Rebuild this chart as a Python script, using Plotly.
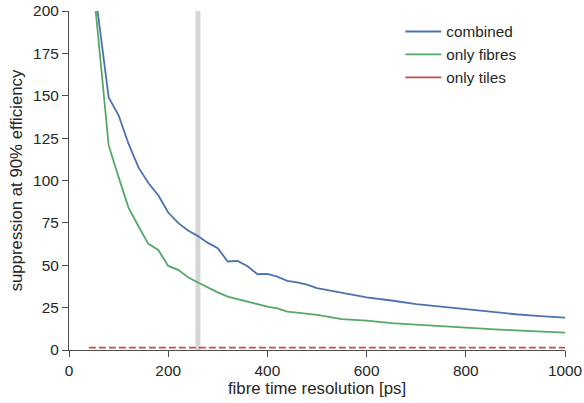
import plotly.graph_objects as go

resolution = [40, 60, 80, 100, 120, 140, 160, 180, 200, 220, 240, 260, 280, 300,
              320, 340, 360, 380, 400, 420, 440, 460, 480, 500, 550, 600, 650, 700,
              750, 800, 850, 900, 950, 1000]
combined = [240, 193, 149, 138.4, 121.7, 107.7, 98.5, 91.3, 81.1, 75.0, 70.5, 67.2,
            63.2, 60.0, 52.2, 52.6, 49.4, 44.7, 44.9, 43.3, 40.8, 39.9, 38.6, 36.5,
            33.6, 31.0, 29.2, 27.1, 25.6, 24.1, 22.4, 21.1, 20.0, 19.1]
only_fibres = [242, 182, 120.7, 102, 84, 73, 62.6, 59, 49.6, 47.3, 42.9, 39.8, 36.8,
               34.0, 31.5, 30.0, 28.8, 27.2, 25.6, 24.5, 22.6, 22.0, 21.3, 20.7, 18.2,
               17.3, 15.9, 15.0, 13.8, 13.0, 12.3, 11.6, 10.9, 10.2]
only_tiles = [1.4] * len(resolution)
band_lo, band_hi = 255, 265

x_ticks = [0, 200, 400, 600, 800, 1000]
y_ticks = [0, 25, 50, 75, 100, 125, 150, 175, 200]

BLUE, GREEN, RED = "#4c72b0", "#55a868", "#c44e52"
TXT = "#262626"
FONT = "Liberation Sans, Arial, sans-serif"

fig = go.Figure()
fig.add_trace(go.Scatter(x=resolution, y=combined, mode="lines", name="combined",
                         line=dict(color=BLUE, width=1.8)))
fig.add_trace(go.Scatter(x=resolution, y=only_fibres, mode="lines", name="only fibres",
                         line=dict(color=GREEN, width=1.8)))
fig.add_trace(go.Scatter(x=resolution, y=only_tiles, mode="lines", name="only tiles",
                         showlegend=False,
                         line=dict(color=RED, width=1.8, dash="7px,3px")))
fig.add_trace(go.Scatter(x=[None], y=[None], mode="lines", name="only tiles",
                         line=dict(color=RED, width=1.8)))

fig.add_shape(type="rect", xref="x", yref="y", x0=band_lo, x1=band_hi, y0=0, y1=200,
              fillcolor="#d6d6d6", line_width=0, layer="below")

fig.update_layout(
    width=584, height=403,
    margin=dict(l=69, r=19, t=11, b=53, autoexpand=False),
    paper_bgcolor="white", plot_bgcolor="white",
    font=dict(family=FONT, size=15.4, color=TXT),
    showlegend=True,
    legend=dict(x=0.668, y=0.988, xanchor="left", yanchor="top",
                bgcolor="rgba(0,0,0,0)", font=dict(size=15.3, color=TXT),
                tracegroupgap=0, itemwidth=36),
    xaxis=dict(range=[0, 1000], tickvals=x_ticks, showgrid=False, zeroline=False,
               automargin=False,
               showline=True, linecolor="#4d4d4d", linewidth=1.3,
               ticks="outside", ticklen=6, tickwidth=1.3, tickcolor="#4d4d4d",
               tickfont=dict(size=15.4),
               title=dict(text="fibre time resolution [ps]", font=dict(size=16.8),
                          standoff=2)),
    yaxis=dict(range=[0, 200], tickvals=y_ticks, showgrid=False, zeroline=False,
               automargin=False,
               showline=True, linecolor="#4d4d4d", linewidth=1.3,
               ticks="outside", ticklen=6, tickwidth=1.3, tickcolor="#4d4d4d",
               tickfont=dict(size=15.4),
               title=dict(text="suppression at 90% efficiency", font=dict(size=16.8),
                          standoff=6)),
)

fig.write_html("out.html", config={"displayModeBar": False},
               post_script="document.body.style.margin='0';document.body.style.overflow='hidden';")
